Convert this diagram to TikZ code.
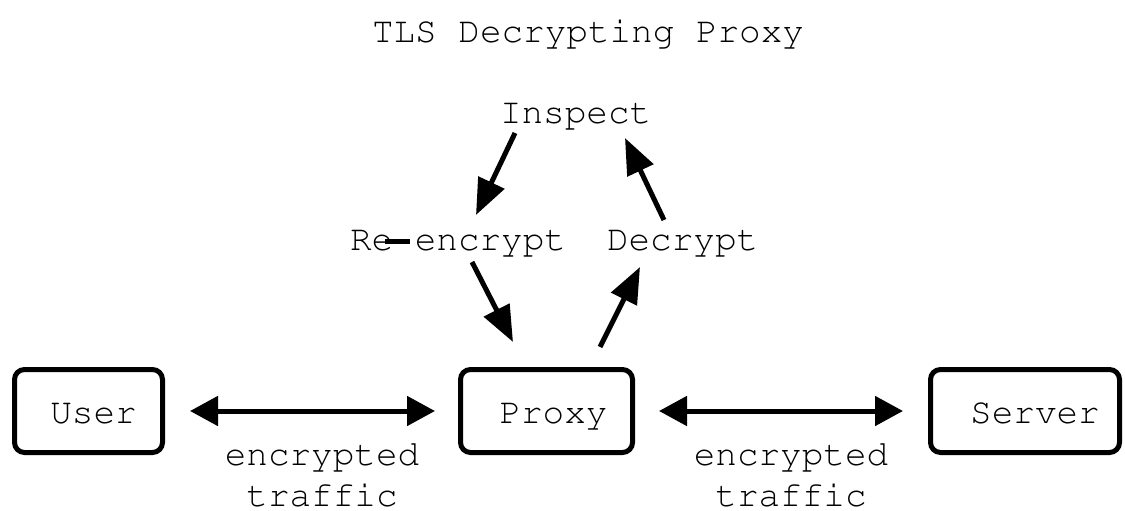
\documentclass[tikz,border=0pt]{standalone}
\usepackage[T1]{fontenc}
\usepackage{courier}
\usetikzlibrary{arrows.meta}
\newcommand{\diafont}{\ttfamily\fontsize{36}{41}\selectfont}
\tikzset{
  txt/.style={inner sep=0pt, outer sep=0pt, anchor=base west, font=\diafont},
  lbl/.style={inner sep=0pt, outer sep=0pt, anchor=base, align=center, font=\diafont},
  boxnode/.style={draw, line width=5pt, rounded corners=10pt, minimum height=83pt, inner sep=0pt, outer sep=0pt,
    text height=24pt, text depth=0pt, font=\diafont},
  flow/.style={line width=5pt, -{Triangle[length=36pt,width=28pt]}},
  link/.style={line width=5pt, {Triangle[length=28pt,width=29pt]}-{Triangle[length=28pt,width=29pt]}},
  dashmark/.style={line width=5pt}
}
\begin{document}
\begin{tikzpicture}[x=1pt,y=-1pt]
\useasboundingbox (0,0) rectangle (1125,511);
\node[txt] (title) at (372,43) {TLS Decrypting Proxy};
\node[txt] (inspect) at (500,123) {Inspect};
\node[txt] (reenc) at (350,250) {Re encrypt};
\node[txt] (decrypt) at (607,250) {Decrypt};
\node[boxnode, minimum width=148pt] (user) at (88.5,411) {\hspace*{10pt}User};
\node[boxnode, minimum width=172pt] (proxy) at (546.5,411) {\hspace*{14pt}Proxy};
\node[boxnode, minimum width=189pt] (server) at (1025,411) {\hspace*{20pt}Server};
\node[lbl] (enc1) at (322,506) {encrypted\\traffic};
\node[lbl] (enc2) at (791,506) {encrypted\\traffic};
% hyphen mark
\draw[dashmark] ([shift={(35,-9)}]reenc.base west) -- ([shift={(60,-9)}]reenc.base west);
% cycle arrows
\draw[flow] ([shift={(15,10)}]inspect.base west) -- ([shift={(126,-35)}]reenc.base west);
\draw[flow] ([shift={(122,12)}]reenc.base west) -- ([shift={(-33.5,-69)}]proxy.center);
\draw[flow] ([shift={(53.5,-64)}]proxy.center) -- ([shift={(33,17)}]decrypt.base west);
\draw[flow] ([shift={(57,-30)}]decrypt.base west) -- ([shift={(125,15)}]inspect.base west);
% traffic arrows
\draw[link, shorten <=27.5pt, shorten >=25.5pt] (user.east) -- (proxy.west);
\draw[link, shorten <=26.5pt, shorten >=27.5pt] (proxy.east) -- (server.west);
\end{tikzpicture}
\end{document}
